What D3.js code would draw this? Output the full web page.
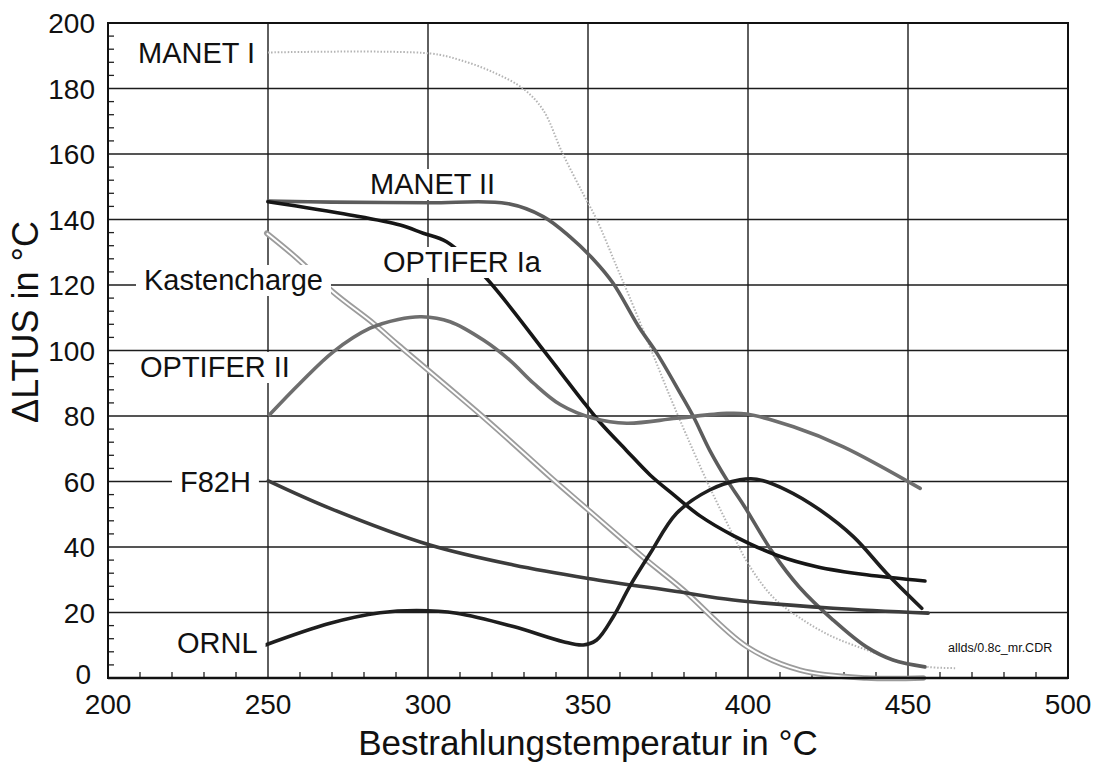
<!DOCTYPE html>
<html>
<head>
<meta charset="utf-8">
<script src="https://cdn.jsdelivr.net/npm/d3@7"></script>
<style>
  body { margin: 0; background: #fff; }
  text { font-family: "Liberation Sans", Arial, sans-serif; fill: #111; }
</style>
</head>
<body>
<svg id="chart" width="1095" height="767"></svg>
<script>
// Axis ticks
const xTickValues = [200, 250, 300, 350, 400, 450, 500];
const yTickValues = [0, 20, 40, 60, 80, 100, 120, 140, 160, 180, 200];

// Series: irradiation temperature (°C) and ΔLTUS shift (°C)
const manetI_T = [250, 300.6, 310, 320.3, 329.7, 336, 342, 348.4, 352.8, 359, 363, 369.4, 375.6, 381, 388, 395, 400.6, 408, 416, 426, 437, 447, 456, 465];
const manetI_V = [191, 190.7, 188.7, 185, 180, 173.4, 160.3, 148, 139.8, 125.5, 116.3, 101, 86, 73.6, 58.3, 44.3, 34, 24.5, 18.5, 12.8, 8.6, 5.2, 3.4, 3];

const manetII_T = [250, 270, 300, 324.6, 336, 344.4, 352, 357.8, 366, 371.5, 378.8, 383, 388, 393.4, 398.5, 407.8, 416, 426.6, 437, 445.3, 455.3];
const manetII_V = [145.6, 145.3, 145.1, 144.9, 140.9, 134.7, 127.5, 120.6, 107, 99.2, 87, 79.7, 69.6, 60.5, 53, 38.2, 27.8, 17.7, 9.5, 5.5, 3.4];

const optiferIa_T = [250, 275.6, 291.3, 298.5, 305.8, 317.8, 336, 341.3, 348, 353.8, 362, 369.4, 376.7, 385, 395.4, 409, 421.5, 437, 455.3];
const optiferIa_V = [145.4, 141.4, 138.3, 135.8, 133.2, 122.5, 100.2, 93.5, 85, 78, 69.5, 62, 56, 49.5, 43.5, 37.5, 34, 31.5, 29.6];

const kasten_T = [249.6, 259, 270.4, 282.9, 290.7, 318.3, 339.2, 350.1, 368.3, 379.8, 399.6, 416.3, 437, 454.8];
const kasten_V = [135.8, 128.2, 117.8, 108.3, 101.7, 78.8, 60.5, 51.3, 36, 26.9, 9.6, 2.4, 0, 0];

const optiferII_T = [250.4, 260, 270.4, 281.9, 290.7, 298, 306.9, 317.3, 325.6, 333, 341.3, 351.7, 362.1, 377.7, 393.3, 399.6, 414.2, 429.8, 453.8];
const optiferII_V = [80.3, 90, 99.6, 106.8, 109.5, 110.3, 108.8, 103.2, 97, 90, 83.5, 79.3, 77.8, 79.3, 80.8, 80.6, 76.7, 70.6, 57.9];

const f82h_T = [250.1, 269.4, 300.6, 326.7, 350.1, 377.7, 395.4, 426.6, 456.3];
const f82h_V = [60.2, 51.8, 40.6, 34.5, 30.4, 26.4, 23.8, 21.3, 19.8];

const ornl_T = [249, 269.4, 285, 296.5, 309, 326.7, 342.3, 348.5, 352.7, 357.9, 363, 369.4, 377.7, 388, 397.5, 402.7, 412, 422.5, 433, 443.3, 454.3];
const ornl_V = [10, 16.7, 19.9, 20.6, 19.8, 15.7, 11.1, 10.1, 11.6, 18.7, 27.9, 38, 50.3, 57.4, 60.5, 60.7, 57.4, 51.3, 43.1, 32, 21.3];

const seriesNames = ["MANET I", "MANET II", "OPTIFER Ia", "Kastencharge", "OPTIFER II", "F82H", "ORNL"];

// Drawing styles per series
const styles = {
  "MANET I":      { color: "#b4b4b4", width: 2, dash: "1.5,1.8" },
  "MANET II":     { color: "#5c5c5c", width: 3.6 },
  "OPTIFER Ia":   { color: "#161616", width: 3.6 },
  "Kastencharge": { color: "#9c9c9c", width: 5.5, inner: 2 },
  "OPTIFER II":   { color: "#6e6e6e", width: 3.6 },
  "F82H":         { color: "#3c3c3c", width: 3.6 },
  "ORNL":         { color: "#1e1e1e", width: 3.6 }
};

// Label placement (left edge, baseline) in pixels
const labelLayout = {
  "MANET I":      [138, 63],
  "MANET II":     [370, 194],
  "OPTIFER Ia":   [383, 272],
  "Kastencharge": [144, 290],
  "OPTIFER II":   [140, 377],
  "F82H":         [180, 492],
  "ORNL":         [177, 653]
};

const seriesData = {
  "MANET I": [manetI_T, manetI_V],
  "MANET II": [manetII_T, manetII_V],
  "OPTIFER Ia": [optiferIa_T, optiferIa_V],
  "Kastencharge": [kasten_T, kasten_V],
  "OPTIFER II": [optiferII_T, optiferII_V],
  "F82H": [f82h_T, f82h_V],
  "ORNL": [ornl_T, ornl_V]
};

const svg = d3.select("#chart");
const plotLeft = 108, plotRight = 1068, plotTop = 23, plotBottom = 678;

const x = d3.scaleLinear().domain([200, 500]).range([plotLeft, plotRight]);
const y = d3.scaleLinear().domain([0, 200]).range([plotBottom, plotTop]);

// Grid
const grid = svg.append("g").attr("stroke", "#1c1c1c").attr("stroke-width", 1.4);
grid.selectAll("line.h").data(yTickValues.filter(v => v > 0 && v < 200)).join("line")
  .attr("class", "h")
  .attr("x1", plotLeft).attr("x2", plotRight).attr("y1", d => y(d)).attr("y2", d => y(d));
grid.selectAll("line.v").data(xTickValues.filter(v => v > 200 && v < 500)).join("line")
  .attr("class", "v")
  .attr("y1", plotTop).attr("y2", plotBottom).attr("x1", d => x(d)).attr("x2", d => x(d));

// Minor ticks
const xMinor = d3.range(210, 500, 10).filter(v => v % 50 !== 0);
const yMinor = d3.range(4, 200, 4).filter(v => v % 20 !== 0);
const ticks = svg.append("g").attr("stroke", "#222").attr("stroke-width", 1.3);
ticks.selectAll("line.xm").data(xMinor).join("line").attr("class", "xm")
  .attr("x1", d => x(d)).attr("x2", d => x(d)).attr("y1", plotBottom).attr("y2", plotBottom - 6);
ticks.selectAll("line.ym").data(yMinor).join("line").attr("class", "ym")
  .attr("y1", d => y(d)).attr("y2", d => y(d)).attr("x1", plotLeft).attr("x2", plotLeft + 6);

// Curves
const line = d3.line().curve(d3.curveCatmullRom.alpha(0.5)).x(d => x(d[0])).y(d => y(d[1]));
const curves = svg.append("g").attr("fill", "none");
seriesNames.forEach(name => {
  const [T, V] = seriesData[name];
  const pts = T.map((t, i) => [t, V[i]]);
  const st = styles[name];
  const p = curves.append("path").datum(pts).attr("d", line)
    .attr("stroke", st.color).attr("stroke-width", st.width)
    .attr("stroke-linecap", "round").attr("stroke-linejoin", "round");
  if (st.dash) p.attr("stroke-dasharray", st.dash).attr("stroke-linecap", "butt");
  if (st.inner) {
    curves.append("path").datum(pts).attr("d", line)
      .attr("stroke", "#fff").attr("stroke-width", st.inner);
  }
});

// Series labels with white backing boxes
const labels = svg.append("g");
seriesNames.forEach(name => {
  const [lx, ly] = labelLayout[name];
  const g = labels.append("g");
  const rect = g.append("rect").attr("fill", "#fff");
  const t = g.append("text").attr("x", lx).attr("y", ly)
    .attr("font-size", 29).text(name);
  const bb = t.node().getBBox();
  rect.attr("x", bb.x - 8).attr("y", bb.y + 1).attr("width", bb.width + 16).attr("height", bb.height - 1);
});

// Frame
svg.append("rect").attr("x", plotLeft).attr("y", plotTop)
  .attr("width", plotRight - plotLeft).attr("height", plotBottom - plotTop)
  .attr("fill", "none").attr("stroke", "#111").attr("stroke-width", 2);
svg.append("line").attr("x1", plotLeft).attr("x2", plotRight).attr("y1", plotBottom).attr("y2", plotBottom)
  .attr("stroke", "#111").attr("stroke-width", 2.6);

// Tick labels (the zero label sits a little higher and left to clear the "200" below it)
svg.append("g").selectAll("text").data(yTickValues).join("text")
  .attr("x", d => d === 0 ? 91 : 95)
  .attr("y", d => y(d) + (d === 0 ? 6 : 10))
  .attr("text-anchor", "end")
  .attr("font-size", 28).text(d => d);
svg.append("g").selectAll("text").data(xTickValues).join("text")
  .attr("x", d => x(d)).attr("y", 714).attr("text-anchor", "middle")
  .attr("font-size", 28).text(d => d);

// Axis titles
svg.append("text").attr("x", (plotLeft + plotRight) / 2).attr("y", 755).attr("text-anchor", "middle")
  .attr("font-size", 35).text("Bestrahlungstemperatur in °C");
svg.append("text").attr("transform", "translate(38,322) rotate(-90)").attr("text-anchor", "middle")
  .attr("font-size", 36).text("ΔLTUS in °C");

// File reference
svg.append("text").attr("x", 948).attr("y", 652).attr("font-size", 12.5).text("allds/0.8c_mr.CDR");
</script>
</body>
</html>
